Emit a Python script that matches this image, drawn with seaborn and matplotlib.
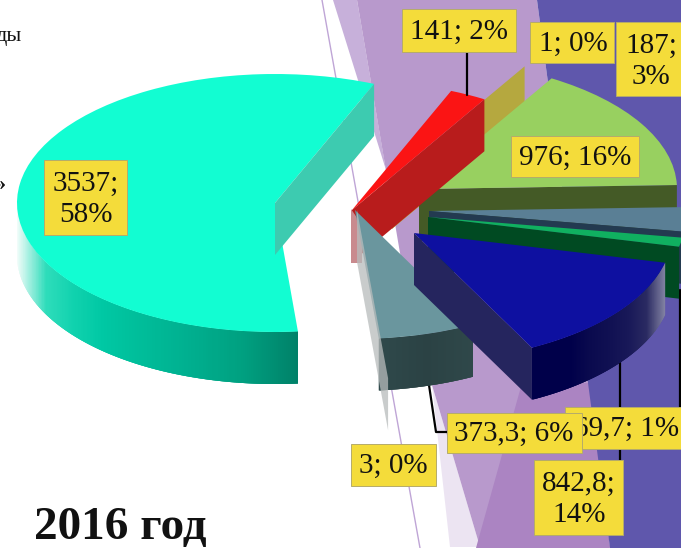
import numpy as np
import matplotlib
matplotlib.use("Agg")
import matplotlib.pyplot as plt
from matplotlib.patches import Rectangle
from matplotlib.transforms import Affine2D
import seaborn as sns

# --- data ---
values = [3537, 141, 1, 976, 187, 69.7, 842.8, 373.3, 3]
label_lines = ["3537;\n58%", "141; 2%", "1; 0%", "976; 16%", "187;\n3%",
               "69,7; 1%", "842,8;\n14%", "373,3; 6%", "3; 0%"]
top_colors = ["#12fdd2", "#fb1414", "#b5a83f", "#98d060", "#5a7f95",
              "#10b060", "#0e10a0", "#6a969e", "#c0c4c4"]
wall_colors = ["#3dcbb0", "#b81c1c", "#b5a83f", "#445a26", "#233a50",
               "#004a22", "#25255e", "#2c4446", "#b8bcbc"]
title = "2016 год"

# --- layout (pixels of the picture) ---
W, H = 681, 548
SQ, DEPTH, R = 0.5, 52, 258
centers = [(275, 203), (352, 210), (392, 177), (419, 189), (429, 211),
           (428, 217), (414, 233), (355, 210), (357, 210)]
boxes = [(44, 160, 127, 235), (402, 9, 516, 52), (530, 22, 614, 63),
         (511, 136, 639, 177), (616, 22, 690, 96), (565, 407, 690, 449),
         (534, 460, 623, 535), (447, 413, 582, 453), (351, 444, 436, 486)]
text_xy = [(86, 199), (459, 32), (573, 44), (575, 158), (651, 61), (627, 429),
           (579, 499), (514, 434), (393, 466)]

sns.set_theme(style="white")
plt.rcParams["font.family"] = ["Liberation Serif", "DejaVu Serif"]

fig = plt.figure(figsize=(W / 100, H / 100), dpi=100, facecolor="white")
ax = fig.add_axes([0, 0, 1, 1])

wedges, _ = ax.pie(values, startangle=275.1, counterclock=False, radius=R,
                   colors=top_colors, wedgeprops={"linewidth": 0})
ax.set_aspect("auto")
ax.set_xlim(0, W)
ax.set_ylim(H, 0)
ax.axis("off")


def rim_pt(i, ang, r=R):
    cx, cy = centers[i]
    a = np.deg2rad(ang)
    return cx + r * np.cos(a), cy - SQ * r * np.sin(a)


def top(i, z):
    cx, cy = centers[i]
    w = wedges[i]
    w.set_transform(Affine2D().scale(1, -SQ).translate(cx, cy) + ax.transData)
    w.set_zorder(z)


def wall(i, ang, z, r=R, color=None, alpha=1):
    cx, cy = centers[i]
    x, y = rim_pt(i, ang, r)
    ax.fill([cx, x, x, cx], [cy, y, y + DEPTH, cy + DEPTH],
            color=color or wall_colors[i], alpha=alpha, zorder=z, lw=0)


def rim(i, a0, a1, stops, z, steps=220):
    # shaded front of a slice: colour runs with the horizontal position
    angs = np.linspace(a0, a1, steps)
    xs = np.array([rim_pt(i, a)[0] for a in angs])
    pal = sns.blend_palette(stops, 256)
    frac = (xs - xs.min()) / (xs.max() - xs.min())
    for k in range(len(angs) - 1):
        k2 = min(k + 3, len(angs) - 1)
        x0, y0 = rim_pt(i, angs[k])
        x1, y1 = rim_pt(i, angs[k2])
        ax.fill([x0, x1, x1, x0], [y0, y1, y1 + DEPTH, y0 + DEPTH],
                color=pal[int(frac[k] * 255)], lw=0, zorder=z)


# --- backdrop ---
bg = [
    ([333, 357, 386], [0, 0, 170], "#c7b0da"),
    ([432, 480, 450], [385, 547, 547], "#ece4f2"),
    ([357, 537, 610, 480, 432, 400], [0, 0, 547, 547, 385, 253], "#b899cc"),
    ([522, 590, 610, 476], [383, 383, 548, 548], "#ab84c2"),
    ([537, 681, 681, 610], [0, 0, 548, 548], "#5f57ac"),
]
for xs, ys, c in bg:
    ax.fill(xs, ys, color=c, lw=0, zorder=0.5)
ax.plot([322, 420], [0, 548], color="#bfa5d6", lw=1, zorder=0.6)

# --- leader lines behind the pie ---
ax.plot([620, 620], [355, 460], color="black", lw=1.6, zorder=1)
ax.plot([680, 680], [290, 410], color="black", lw=1.6, zorder=1)
ax.plot([429, 436, 447], [385, 432, 432], color="black", lw=1.6, zorder=1)

# --- slices, back to front ---
th = [(w.theta1, w.theta2) for w in wedges]

wall(2, th[2][0], 2)                                     # the 1; 0% plane
wedges[2].set_visible(False)
top(3, 3.1)
wall(3, th[3][0], 3.0)
top(4, 4.1)
wall(4, th[4][0], 4.0)
top(5, 5.2)
wall(5, th[5][0], 5.1)
wall(4, th[4][0], 5.0)

top(1, 6.1)
wall(1, th[1][0], 6.0)
ax.fill([351, 351, 362, 362], [209, 263, 263, 225], color="#c98a8e", lw=0, zorder=6.2)

top(7, 7.1)
rim(7, th[7][0], th[7][1], ["#2f494b", "#2b4244", "#2f484a"], 7.0)
wedges[8].set_visible(False)
wall(8, th[8][1], 7.2, r=338, alpha=0.75)

top(6, 8.1)
wall(6, th[6][0], 8.0)
rim(6, th[6][0], th[6][1],
    ["#00004a", "#00004a", "#00004a", "#0a0a4e", "#101052", "#181858",
     "#2a2a62", "#8585a5"], 8.0)

top(0, 9.0)
wall(0, th[0][0], 9.1)
rim(0, 180, 360 + th[0][1] if th[0][1] < 0 else th[0][1],
    ["#f0fcf9", "#2fddbb", "#10d2ae", "#00c8a4", "#00c09c", "#00b896",
     "#00b090", "#00a888", "#00a080", "#009074", "#008068"], 8.9)

ax.plot([467, 467], [52, 95], color="black", lw=1.6, zorder=10)

# --- labels ---
order = [0, 1, 2, 3, 4, 5, 7, 8, 6]
for n, i in enumerate(order):
    x0, y0, x1, y1 = boxes[i]
    z = 11 + n * 0.1
    ax.add_patch(Rectangle((x0, y0), x1 - x0, y1 - y0, facecolor="#f4dc3a",
                           edgecolor="#b5ab6a", lw=0.7, zorder=z))
    ax.text(text_xy[i][0], text_xy[i][1], label_lines[i], ha="center",
            va="center", fontsize=21, color="#111111", zorder=z + 0.01,
            linespacing=1.25)

ax.text(120, 528, title, ha="center", va="center", fontsize=34,
        fontweight="bold", color="#111111", zorder=12)
ax.text(22, 36, "ды", ha="right", va="center", fontsize=16, color="#111111")
ax.text(5, 185, "»", ha="right", va="center", fontsize=16, fontweight="bold",
        color="#111111")

fig.savefig("out.png", dpi=100, facecolor="white")
